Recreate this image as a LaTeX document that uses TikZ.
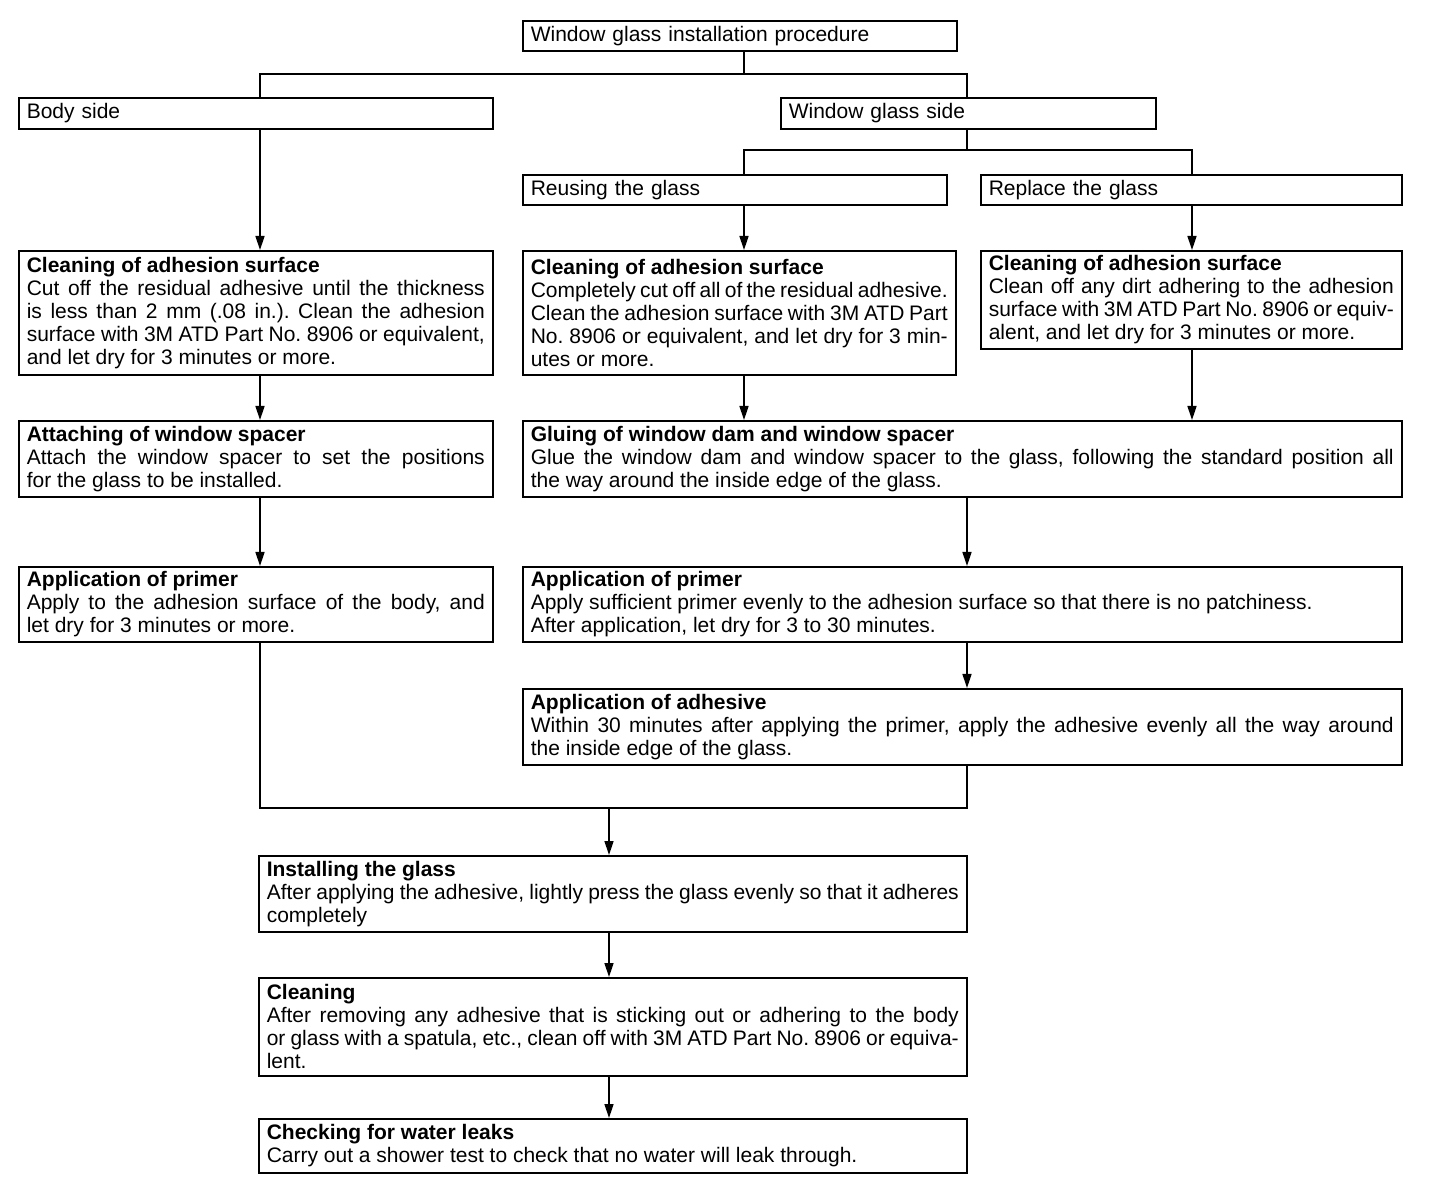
\documentclass[tikz,border=0pt]{standalone}
\usepackage{fontspec}
\setmainfont{Liberation Sans}
\usepackage{tikz}
\usepackage{xcolor}
\usetikzlibrary{arrows.meta,positioning,calc}
\definecolor{ink}{HTML}{000000}
\definecolor{paper}{HTML}{FFFFFF}
\tikzset{
  labelbox/.style={draw=ink,fill=paper,line width=0.8pt,anchor=north west,
                   inner xsep=4pt,inner ysep=1pt,align=left,
                   font=\fontsize{10.5}{11.5}\selectfont},
  stepcard/.style={labelbox,align=justify},
  flowline/.style={draw=ink,line width=0.75pt},
  flowarr/.style={flowline,-{Triangle[length=7pt,width=4.5pt]}}
}
\hyphenpenalty=10000
\tolerance=10000
\frenchspacing
\begin{document}
\begin{tikzpicture}[x=0.5pt,y=-0.5pt]
  \fill[paper] (0,0) rectangle (1456,1186);
  \useasboundingbox (0,0) rectangle (1456,1186);
  \coordinate (colL) at (260,0);
  \coordinate (colM) at (744,0);
  \coordinate (colW) at (967,0);
  \coordinate (colR) at (1192,0);
  \coordinate (fork1) at (744,74);
  \coordinate (fork2) at (967,150);
  \coordinate (merge) at (609,808);

  \node[labelbox,text width=209pt,minimum height=15pt] (title) at (522,20)
    {Window glass installation procedure};
  \node[labelbox,text width=229pt,minimum height=15.5pt] (bodyside) at (18,97)
    {Body side};
  \node[labelbox,text width=179.5pt,minimum height=15.5pt] (wgside) at (780,97)
    {Window glass side};
  \node[labelbox,text width=204pt,minimum height=15pt] (reuse) at (522,174)
    {Reusing the glass};
  \node[labelbox,text width=202.5pt,minimum height=15pt] (replace) at (980,174)
    {Replace the glass};

  \node[stepcard,text width=229pt,minimum height=62pt] (cleanL) at (18,250)
    {\textbf{Cleaning of adhesion surface}\\
     Cut off the residual adhesive until the thickness\linebreak
     is less than 2 mm (.08 in.). Clean the adhesion\linebreak
     surface with 3M ATD Part No. 8906 or equivalent,\linebreak
     and let dry for 3 minutes or more.};
  \node[stepcard,text width=208.5pt,minimum height=62pt] (cleanM) at (522,250)
    {\textbf{Cleaning of adhesion surface}\\
     Completely cut off all of the residual adhesive.\linebreak
     Clean the adhesion surface with 3M ATD Part\linebreak
     No. 8906 or equivalent, and let dry for 3 min-\linebreak
     utes or more.};
  \node[stepcard,text width=202.5pt,minimum height=49pt] (cleanR) at (980,250)
    {\textbf{Cleaning of adhesion surface}\\
     Clean off any dirt adhering to the adhesion\linebreak
     surface with 3M ATD Part No. 8906 or equiv-\linebreak
     alent, and let dry for 3 minutes or more.};

  \node[stepcard,text width=229pt,minimum height=38pt] (attach) at (18,420)
    {\textbf{Attaching of window spacer}\\
     Attach the window spacer to set the positions\linebreak
     for the glass to be installed.};
  \node[stepcard,text width=431.5pt,minimum height=38pt] (glue) at (522,420)
    {\textbf{Gluing of window dam and window spacer}\\
     Glue the window dam and window spacer to the glass, following the standard position all\linebreak
     the way around the inside edge of the glass.};

  \node[stepcard,text width=229pt,minimum height=37.5pt] (primerL) at (18,566)
    {\textbf{Application of primer}\\
     Apply to the adhesion surface of the body, and\linebreak
     let dry for 3 minutes or more.};
  \node[stepcard,text width=431.5pt,minimum height=37.5pt] (primerR) at (522,566)
    {\textbf{Application of primer}\\
     Apply sufficient primer evenly to the adhesion surface so that there is no patchiness.\\
     After application, let dry for 3 to 30 minutes.};
  \node[stepcard,text width=431.5pt,minimum height=38pt] (adhes) at (522,688)
    {\textbf{Application of adhesive}\\
     Within 30 minutes after applying the primer, apply the adhesive evenly all the way around\linebreak
     the inside edge of the glass.};

  \node[stepcard,text width=346pt,minimum height=38pt] (install) at (258,855)
    {\textbf{Installing the glass}\\
     After applying the adhesive, lightly press the glass evenly so that it adheres\linebreak
     completely};
  \node[stepcard,text width=346pt,minimum height=49pt] (cleaning) at (258,977)
    {\textbf{Cleaning}\\
     After removing any adhesive that is sticking out or adhering to the body\linebreak
     or glass with a spatula, etc., clean off with 3M ATD Part No. 8906 or equiva-\linebreak
     lent.};
  \node[stepcard,text width=346pt,minimum height=27pt] (check) at (258,1118)
    {\textbf{Checking for water leaks}\\
     Carry out a shower test to check that no water will leak through.};

  \draw[flowline] (title.south -| fork1) -- (fork1);
  \draw[flowline] (bodyside.north -| colL) |- (fork1) -| (wgside.north -| colW);
  \draw[flowline] (wgside.south -| colW) -- (fork2);
  \draw[flowline] (reuse.north -| colM) |- (fork2) -| (replace.north -| colR);

  \draw[flowarr] (bodyside.south -| colL) -- (cleanL.north -| colL);
  \draw[flowarr] (reuse.south -| colM) -- (cleanM.north -| colM);
  \draw[flowarr] (replace.south -| colR) -- (cleanR.north -| colR);
  \draw[flowarr] (cleanL.south -| colL) -- (attach.north -| colL);
  \draw[flowarr] (cleanM.south -| colM) -- (glue.north -| colM);
  \draw[flowarr] (cleanR.south -| colR) -- (glue.north -| colR);
  \draw[flowarr] (attach.south -| colL) -- (primerL.north -| colL);
  \draw[flowarr] (glue.south -| colW) -- (primerR.north -| colW);
  \draw[flowarr] (primerR.south -| colW) -- (adhes.north -| colW);
  \draw[flowline] (primerL.south -| colL) |- (merge) -| (adhes.south -| colW);
  \draw[flowarr] (merge) -- (install.north -| merge);
  \draw[flowarr] (install.south -| merge) -- (cleaning.north -| merge);
  \draw[flowarr] (cleaning.south -| merge) -- (check.north -| merge);
\end{tikzpicture}
\end{document}
